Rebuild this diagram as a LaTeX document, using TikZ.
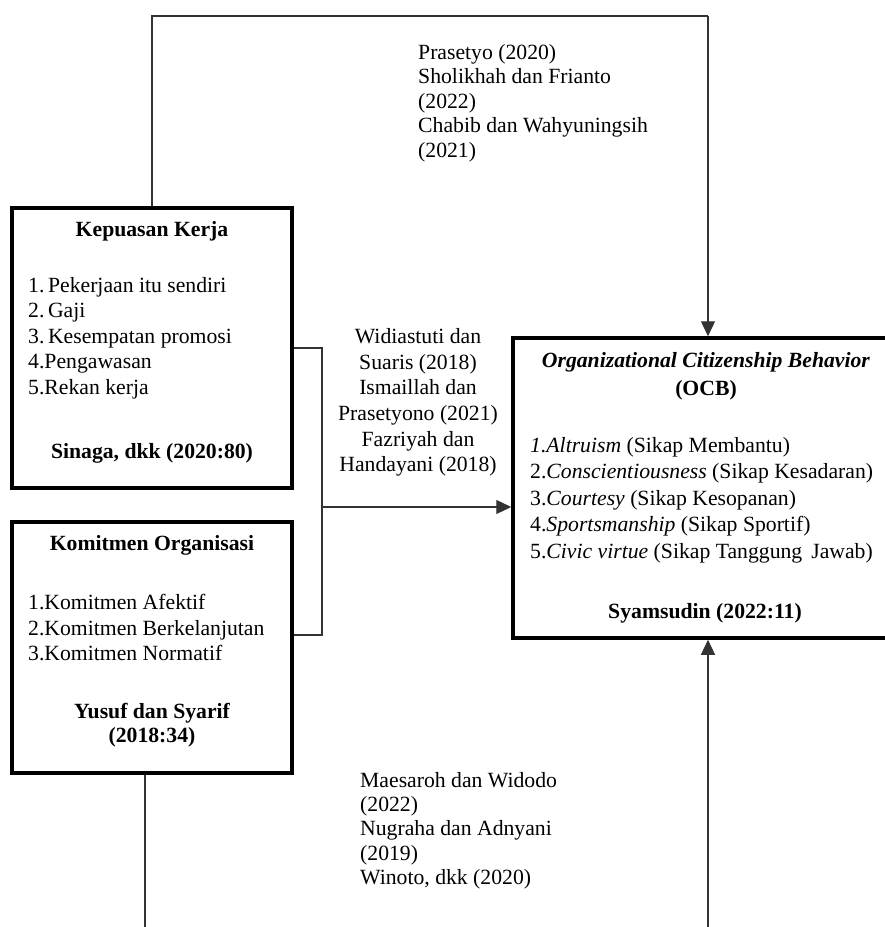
\documentclass[tikz,border=0pt]{standalone}
\usepackage{fontspec}
\setmainfont{Liberation Serif}
\usetikzlibrary{arrows.meta,calc}
\begin{document}
\begin{tikzpicture}[x=1pt,y=-1pt,
  box/.style={draw, line width=3.5pt, rectangle, inner sep=0pt},
  conn/.style={draw=black!80, line width=1.2pt},
  arr/.style={conn, -{Triangle[length=15pt,width=14pt]}},
  txt/.style={font=\fontsize{21.7}{25.5}\selectfont, inner sep=0pt},
  ttl/.style={txt, font=\fontsize{21.7}{25.5}\selectfont\bfseries}
]
\useasboundingbox (0,0) rectangle (885,927);
% boxes
\node[box, minimum width=280pt, minimum height=280pt] (KK) at (152,348) {};
\node[box, minimum width=280pt, minimum height=251pt] (KO) at (152,647.5) {};
\node[box, minimum width=374pt, minimum height=300pt] (OCB) at (700,488) {};

% Kepuasan Kerja text
\node[ttl] (kkt) at (152,231) {Kepuasan Kerja};
\node[txt, anchor=west, align=left] (kki) at (28,338) {1.\,Pekerjaan itu sendiri\\2.\,Gaji\\3.\,Kesempatan promosi\\4.Pengawasan\\5.Rekan kerja};
\node[ttl] (kks) at (152,453) {Sinaga, dkk (2020:80)};

% Komitmen Organisasi text
\node[ttl] (kot) at (152,545) {Komitmen Organisasi};
\node[txt, anchor=west, align=left] (koi) at (28,628) {1.Komitmen Afektif\\2.Komitmen Berkelanjutan\\3.Komitmen Normatif};
\node[ttl, align=center, font=\fontsize{21.7}{24.5}\selectfont\bfseries] (kos) at (152,725) {Yusuf dan Syarif\\(2018:34)};

% OCB text
\node[ttl, align=center, font=\fontsize{21.7}{28}\selectfont\bfseries] (ocbt) at (706,376) {\textit{Organizational Citizenship Behavior}\\(OCB)};
\node[txt, anchor=west, align=left, font=\fontsize{21.7}{26.5}\selectfont] (ocbi) at (530,500) {\textit{1.Altruism} (Sikap Membantu)\\2.\textit{Conscientiousness} (Sikap Kesadaran)\\3.\textit{Courtesy} (Sikap Kesopanan)\\4.\textit{Sportsmanship} (Sikap Sportif)\\5.\textit{Civic virtue} (Sikap Tanggung\, Jawab)};
\node[ttl] (ocbs) at (705,613) {Syamsudin (2022:11)};

% citation labels
\node[txt, anchor=west, align=left, font=\fontsize{21.7}{24.5}\selectfont] (c1) at (418,103) {Prasetyo (2020)\\Sholikhah dan Frianto\\(2022)\\Chabib dan Wahyuningsih\\(2021)};
\node[txt, align=center, font=\fontsize{21.7}{25.7}\selectfont] (c2) at (418,402.5) {Widiastuti dan\\Suaris (2018)\\Ismaillah dan\\Prasetyono (2021)\\Fazriyah dan\\Handayani (2018)};
\node[txt, anchor=west, align=left, font=\fontsize{21.7}{24.3}\selectfont] (c3) at (360,830.5) {Maesaroh dan Widodo\\(2022)\\Nugraha dan Adnyani\\(2019)\\Winoto, dkk (2020)};

% connectors
\coordinate (topR) at (708,16);
\draw[conn] (KK.north) |- (topR);
\draw[arr] (topR) -- (topR |- OCB.north);

\coordinate (bk) at (322,635);
\coordinate (mid) at (322,507);
\draw[conn] (KK.east) -| (bk) -- (bk -| KO.east);
\draw[arr] (mid) -- (mid -| OCB.west);

\coordinate (botL) at (145,927);
\coordinate (botR) at (708,927);
\draw[conn] (botL |- KO.south) -- (botL);
\draw[arr] (botR) -- (botR |- OCB.south);
\end{tikzpicture}
\end{document}
